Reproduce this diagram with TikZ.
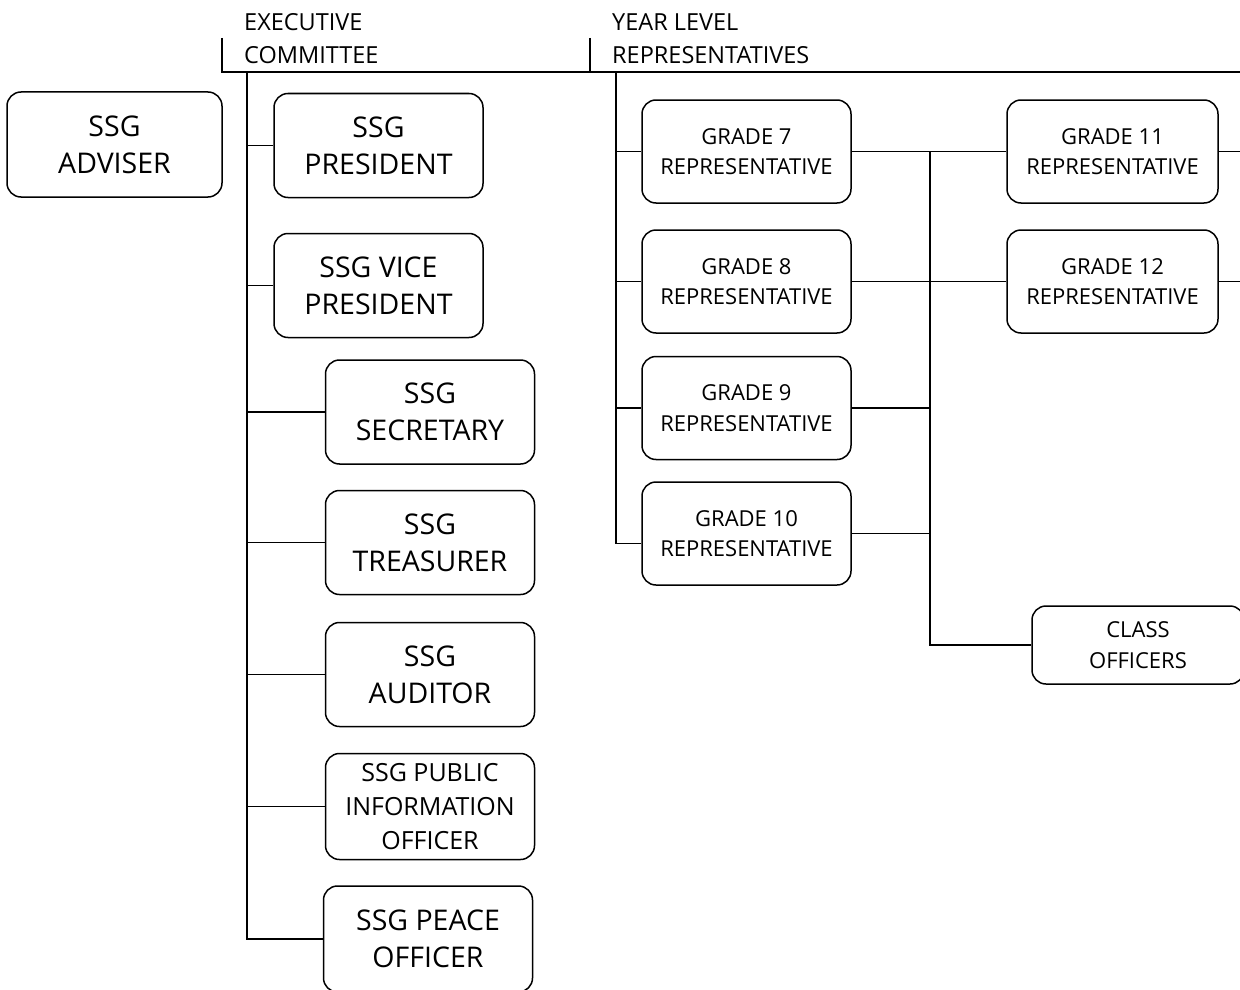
\documentclass[tikz,border=0pt]{standalone}
\usepackage{fontspec}
\setmainfont{Open Sans}
\usepackage{tikz}

\tikzset{
    linie/.style={line width=1.5pt},
    kasten/.style={draw, linie, rounded corners=14pt, align=center, inner sep=0pt},
    gross/.style={kasten, minimum width=209pt, minimum height=104pt, font=\fontsize{28.5}{37}\selectfont},
    klein/.style={kasten, minimum width=209pt, minimum height=103pt, font=\fontsize{22}{30.5}\selectfont},
    kopf/.style={anchor=north west, inner sep=0pt, align=left, font=\fontsize{23.5}{33}\selectfont}
}

\begin{document}
\begin{tikzpicture}[x=1pt, y=-1pt]
    \useasboundingbox (0,0) rectangle (1240,990);

    % Kaesten.
    \node[gross, minimum width=215pt, minimum height=105pt] (adviser) at (114.5,144.5) {SSG\\ADVISER};

    \node[gross] (praes) at (378.5,145.5) {SSG\\PRESIDENT};
    \node[gross] (vize) at (378.5,285.5) {SSG VICE\\PRESIDENT};
    \node[gross] (sekr) at (430,412) {SSG\\SECRETARY};
    \node[gross] (schatz) at (430,542.5) {SSG\\TREASURER};
    \node[gross] (pruef) at (430,674.5) {SSG\\AUDITOR};
    \node[gross, font=\fontsize{25}{34}\selectfont, minimum height=106pt] (info) at (430,806.5) {SSG PUBLIC\\INFORMATION\\OFFICER};
    \node[gross, minimum height=106pt] (frieden) at (428,939) {SSG PEACE\\OFFICER};

    \node[klein] (g7) at (746.5,151.5) {GRADE 7\\REPRESENTATIVE};
    \node[klein] (g8) at (746.5,281.5) {GRADE 8\\REPRESENTATIVE};
    \node[klein] (g9) at (746.5,408) {GRADE 9\\REPRESENTATIVE};
    \node[klein] (g10) at (746.5,533.5) {GRADE 10\\REPRESENTATIVE};

    \node[klein, minimum width=211pt] (g11) at (1112.5,151.5) {GRADE 11\\REPRESENTATIVE};
    \node[klein, minimum width=211pt] (g12) at (1112.5,281.5) {GRADE 12\\REPRESENTATIVE};
    \node[klein, minimum width=212pt, minimum height=78pt] (klasse) at (1138,645) {CLASS\\OFFICERS};

    % Beschriftung.
    \node[kopf] (exkopf) at (244,13) {EXECUTIVE\\COMMITTEE};
    \node[kopf] (jakopf) at (612,13) {YEAR LEVEL\\REPRESENTATIVES};

    % Linien.
    \coordinate (strichA) at (222,38);
    \coordinate (strichB) at (590,38);
    \coordinate (ecke) at (222,72);
    \coordinate (ende) at (1240,72);
    \coordinate (exA) at (247,72);
    \coordinate (jaA) at (616,72);
    \coordinate (vt) at (930,72);

    \draw[linie] (strichA) -- (ecke) -- (ende);
    \draw[linie] (strichB) -- (strichB |- ecke);

    \draw[linie] (exA) |- (frieden.west);
    \foreach \n in {praes,vize,sekr,schatz,pruef,info}
    {
        \draw[linie] (exA |- \n.west) -- (\n.west);
    }

    \draw[linie] (jaA) |- ([yshift=-10pt]g10.west);
    \foreach \n in {g7,g8,g9}
    {
        \draw[linie] (jaA |- \n.west) -- (\n.west);
    }

    \draw[linie] (g7.east) -- (g11.west);
    \draw[linie] (g8.east) -- (g12.west);
    \foreach \n in {g9,g10}
    {
        \draw[linie] (\n.east) -- (vt |- \n.east);
    }
    \draw[linie] (vt |- g7.east) |- (klasse.west);

    \foreach \n in {g11,g12}
    {
        \draw[linie] (\n.east) -- (\n.east -| ende);
    }
\end{tikzpicture}
\end{document}
